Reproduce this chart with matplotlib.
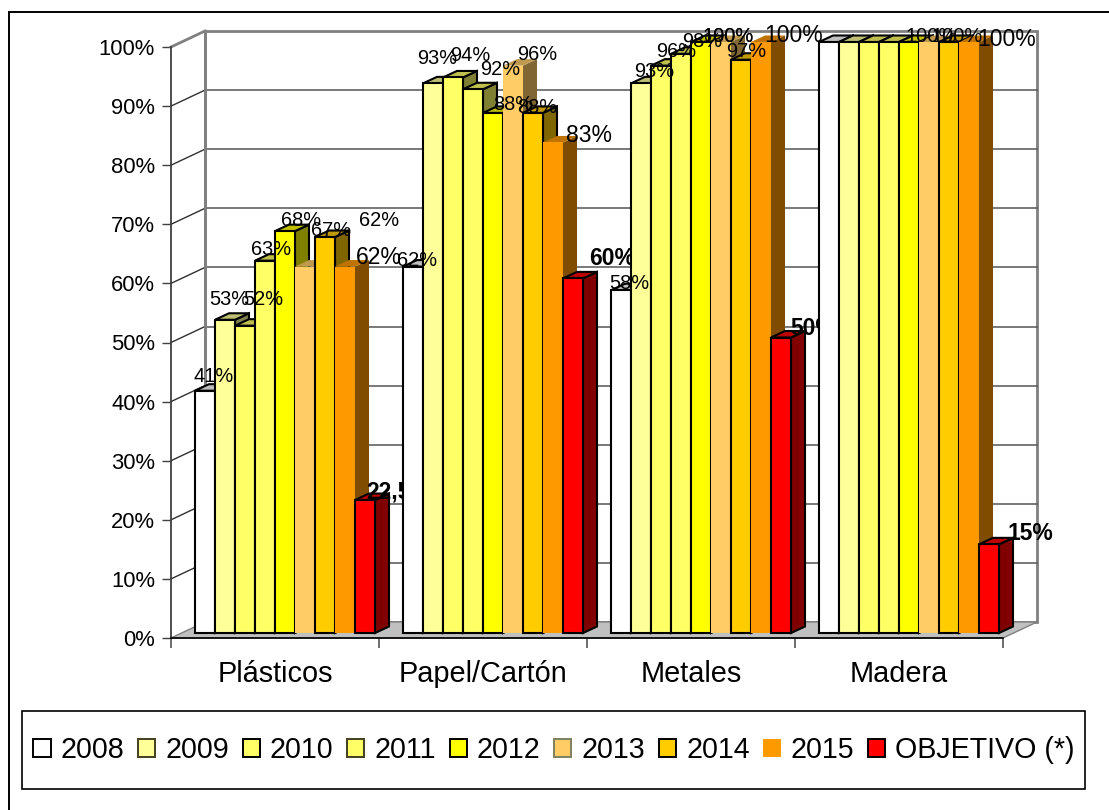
import matplotlib
matplotlib.use("Agg")
import matplotlib.pyplot as plt
from matplotlib.patches import Polygon, Rectangle, Patch
from matplotlib.colors import to_rgb

plt.rcParams['font.family'] = ['Liberation Sans', 'DejaVu Sans']

categories = ['Plásticos', 'Papel/Cartón', 'Metales', 'Madera']
series = ['2008', '2009', '2010', '2011', '2012', '2013', '2014', '2015', 'OBJETIVO (*)']
plasticos = [41, 53, 52, 63, 68, 62, 67, 62, 22.5]
papel = [62, 93, 94, 92, 88, 96, 88, 83, 60]
metales = [58, 93, 96, 98, 100, 100, 97, 100, 50]
madera = [100, 100, 100, 100, 100, 100, 100, 100, 15]
y_ticks = list(range(0, 101, 10))
colors = ['#FFFFFF', '#FFFF99', '#FFFF66', '#FFFF66', '#FFFF00', '#FFCC66', '#FFCC00', '#FF9900', '#FF0000']
edges = ['black', 'black', 'black', 'black', 'black', None, 'black', None, 'black']
legend_edges = ['black', '#404020', 'black', '#404020', 'black', '#808060', 'black', None, 'black']
madera_labelled = [False, False, False, False, False, True, True, True, True]
# label offsets in pixels from the top centre of each bar (x right, y up)
label_offsets = [
    [(9, 14), (4, 20), (18, 26), (6, 11), (16, 11), (74, 46), (6, 7), (34, 9), (34, 8)],
    [(4, 6), (4, 25), (17, 22), (27, 20), (20, 8), (24, 11), (4, 5), (36, 7), (39, 20)],
    [(8, 7), (13, 12), (15, 14), (21, 12), (27, 6), (7, 6), (5, 8), (33, 7), (32, 9)],
    [(0, 0), (0, 0), (0, 0), (0, 0), (0, 0), (2, 5), (8, 5), (38, 2), (41, 11)],
]

W, H = 1109, 810
fig = plt.figure(figsize=(W / 100, H / 100), dpi=100, facecolor='white')
L, R, T, B = 171, 1003, 47, 638
ax = fig.add_axes([L / W, 1 - B / H, (R - L) / W, (B - T) / H])
ax.set_xlim(-0.5, 3.5)
ax.set_ylim(0, 100)
ax.patch.set_alpha(0)
PX = 4 / (R - L)            # data x per pixel
PY = 100 / (B - T)          # data y per pixel

# outer frame
fig.add_artist(Rectangle((8.5 / W, -0.01), 1.1, 1 - 12 / H + 0.01, transform=fig.transFigure,
                         fill=False, ec='black', lw=1.4))

# walls and floor of the 3-D box
wx, wy = 34 * PX, 16 * PY
ax.add_patch(Rectangle((-0.5 + wx, wy), 4, 100, fc='white', ec='#808080', lw=2,
                       clip_on=False, zorder=1))
ax.add_patch(Polygon([(-0.5, 0), (3.5, 0), (3.5 + wx, wy), (-0.5 + wx, wy)], fc='#C0C0C0',
                     ec='#808080', lw=1, clip_on=False, zorder=2))
for v in y_ticks[1:]:
    top = v == y_ticks[-1]
    ax.plot([-0.5, -0.5 + wx], [v, v + wy], color='#808080' if top else '#303030',
            lw=2 if top else 1, clip_on=False, zorder=2)
    if not top:
        ax.plot([-0.5 + wx, 3.5 + wx], [v + wy, v + wy], color='#555555', lw=1.1,
                clip_on=False, zorder=2)
ax.plot([-0.5 + wx] * 2, [wy, 100 + wy], color='#808080', lw=2, clip_on=False, zorder=2)

# bars
bar_w = 20 * PX
front_x, front_y = 10 * PX, 5 * PY
side_x, side_y = 14 * PX, 6.5 * PY
rows = [plasticos, papel, metales, madera]


def shade(c, f):
    return tuple(f * x for x in to_rgb(c))


for g, row in enumerate(rows):
    base = 10 + 10 * g
    for s, v in enumerate(row):
        x0 = g - 4.5 * bar_w + s * bar_w + front_x
        x1 = x0 + bar_w
        y0, y1 = front_y, v + front_y
        e = edges[s]
        kw = dict(ec=e if e else 'none', lw=1.5 if e else 0, joinstyle='miter',
                  clip_on=False, zorder=base + s * 0.1)
        ax.add_patch(Polygon([(x1, y0), (x1 + side_x, y0 + side_y), (x1 + side_x, y1 + side_y), (x1, y1)],
                             fc=shade(colors[s], 0.5), **kw))
        ax.add_patch(Polygon([(x0, y1), (x1, y1), (x1 + side_x, y1 + side_y), (x0 + side_x, y1 + side_y)],
                             fc=shade(colors[s], 0.75), **kw))
        ax.bar(x0, v, width=bar_w, bottom=y0, align='edge', color=colors[s],
               edgecolor=e if e else 'none', linewidth=1.5 if e else 0, clip_on=False,
               zorder=base + s * 0.1)
    for s, v in enumerate(row):
        if g == 3 and not madera_labelled[s]:
            continue
        xc = g - 4.5 * bar_w + (s + 0.5) * bar_w + front_x
        txt = f'{v:g}'.replace('.', ',') + '%'
        size, weight = 14.4, 'normal'
        if s == 7:
            size = 16.5
        if s == 8:
            size, weight = 16.5, 'bold'
        dx, dy = label_offsets[g][s]
        ax.annotate(txt, (xc, v + front_y), xytext=(dx * 0.72, dy * 0.72), textcoords='offset points',
                    ha='center', va='center', fontsize=size, fontweight=weight, color='black',
                    annotation_clip=False, zorder=base + 5)

# axes
for sp in ('top', 'right'):
    ax.spines[sp].set_visible(False)
ax.spines['left'].set_color('#404040')
ax.spines['left'].set_linewidth(1.3)
ax.spines['left'].set_zorder(3)
ax.spines['bottom'].set_color('black')
ax.spines['bottom'].set_linewidth(1.2)
ax.spines['bottom'].set_zorder(3)
ax.set_yticks(y_ticks)
ax.set_yticklabels([f'{v}%' for v in y_ticks], fontsize=15.8)
ax.tick_params(axis='y', length=6.5, width=1, color='#404040', pad=5)
ax.set_xticks(range(4))
ax.set_xticklabels(categories, fontsize=20.8)
ax.set_xticks([i - 0.5 for i in range(5)], minor=True)
ax.tick_params(axis='x', which='major', length=0, pad=15.5)
ax.tick_params(axis='x', which='minor', length=7, width=1.2, color='#555555')

# legend
fig.add_artist(Rectangle((22 / W, 1 - 789 / H), (1085 - 22) / W, 78 / H, transform=fig.transFigure,
                         fc='white', ec='black', lw=1.2))
handles = [Patch(fc=c, ec=e if e else 'none', lw=1.4 if e else 0) for c, e in zip(colors, legend_edges)]
leg = fig.legend(handles, series, loc='center', bbox_to_anchor=(554 / W, 1 - 750 / H), ncol=9,
                 frameon=False, fontsize=20.6, handlelength=0.6, handleheight=0.6,
                 handletextpad=0.35, columnspacing=0.48, borderpad=0)
leg.set_zorder(5)

fig.savefig('out.png', dpi=100)
